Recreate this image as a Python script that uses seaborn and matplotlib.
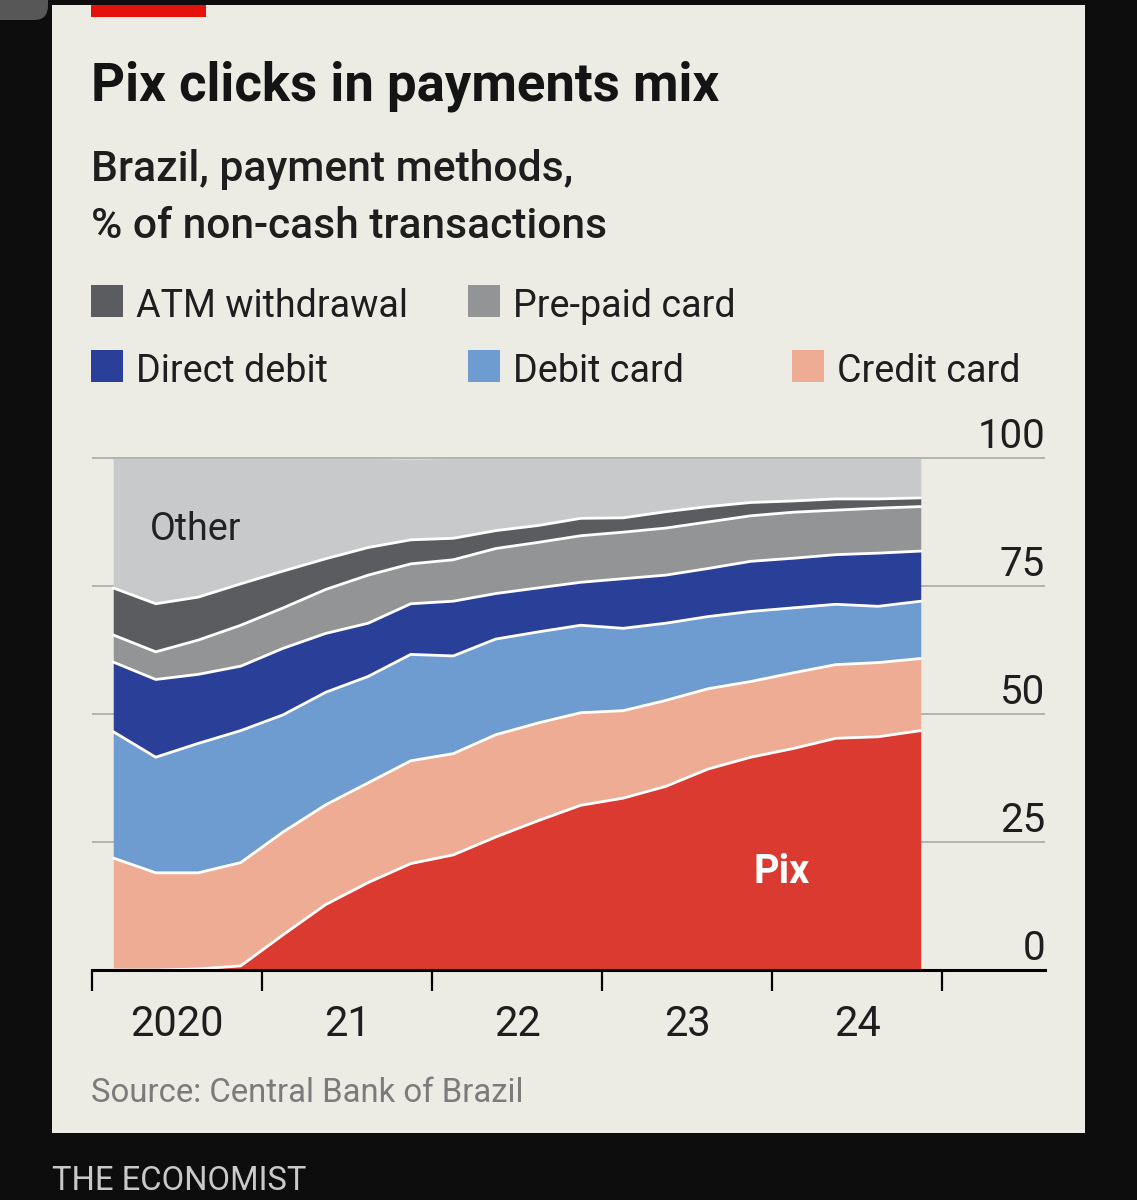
import numpy as np
import pandas as pd
import matplotlib
matplotlib.use("Agg")
import matplotlib.pyplot as plt
from matplotlib.patches import Rectangle, FancyBboxPatch
import seaborn as sns

# ---------------- data (% of non-cash transactions, quarterly) ----------------
quarters = ["2020Q1", "2020Q2", "2020Q3", "2020Q4",
            "2021Q1", "2021Q2", "2021Q3", "2021Q4",
            "2022Q1", "2022Q2", "2022Q3", "2022Q4",
            "2023Q1", "2023Q2", "2023Q3", "2023Q4",
            "2024Q1", "2024Q2", "2024Q3", "2024Q4"]

pix = [0.0, 0.0, 0.2, 0.8, 6.9, 12.8, 17.1, 20.8, 22.5, 26.0,
       29.2, 32.2, 33.6, 35.9, 39.3, 41.6, 43.3, 45.3, 45.6, 46.8]
credit_card = [21.9, 19.0, 18.8, 20.2, 20.1, 19.5, 19.5, 20.1, 19.8, 20.0,
               19.1, 18.1, 17.1, 16.8, 15.7, 14.8, 14.8, 14.4, 14.5, 14.1]
debit_card = [24.7, 22.6, 25.3, 25.8, 22.9, 22.0, 20.8, 20.8, 19.1, 18.7,
              17.8, 17.1, 16.1, 15.1, 14.1, 13.7, 12.7, 11.8, 11.0, 11.2]
direct_debit = [13.6, 15.2, 13.5, 12.6, 13.0, 11.5, 10.4, 9.9, 10.7, 8.9,
                8.6, 8.4, 9.7, 9.4, 9.4, 9.8, 9.7, 9.7, 10.4, 9.8]
prepaid_card = [5.3, 5.4, 6.7, 8.0, 7.9, 8.6, 9.4, 7.8, 8.1, 8.8,
                8.9, 9.1, 9.1, 9.2, 9.1, 8.9, 9.0, 8.7, 8.8, 8.7]
atm_withdrawal = [9.2, 9.4, 8.4, 8.1, 7.2, 6.0, 5.4, 4.7, 4.2, 3.5,
                  3.3, 3.4, 2.8, 3.2, 3.0, 2.6, 2.2, 2.2, 1.8, 1.7]
other = [25.3, 28.4, 27.1, 24.5, 22.0, 19.6, 17.4, 15.8, 15.6, 14.1,
         13.1, 11.7, 11.6, 10.4, 9.4, 8.6, 8.3, 7.9, 7.9, 7.7]

series_names = ["Pix", "Credit card", "Debit card", "Direct debit",
                "Pre-paid card", "ATM withdrawal", "Other"]
series_colors = ["#db3a30", "#eeac94", "#6e9bd0", "#2a3f97",
                 "#939496", "#5b5c60", "#c8c9cb"]
legend_rows = [["ATM withdrawal", "Pre-paid card"],
               ["Direct debit", "Debit card", "Credit card"]]
y_ticks = [0, 25, 50, 75, 100]
x_tick_years = [2020, 2021, 2022, 2023, 2024, 2025]
x_tick_labels = ["2020", "21", "22", "23", "24"]

title = "Pix clicks in payments mix"
subtitle = ["Brazil, payment methods,", "% of non-cash transactions"]
source = "Source: Central Bank of Brazil"
footer = "THE ECONOMIST"

# ---------------- derived ----------------
per = pd.PeriodIndex(quarters, freq="Q")
xq = per.year + (per.quarter - 1) / 4 + 0.125
stack = [pix, credit_card, debit_card, direct_debit, prepaid_card, atm_withdrawal, other]
tops = np.cumsum(np.array(stack), axis=0)
bound_df = pd.concat([
    pd.DataFrame({"x": xq, "top": tops[i], "series": series_names[i]})
    for i in range(len(series_names) - 1)
])

# ---------------- figure ----------------
sns.set_theme(style="white")
plt.rcParams["font.family"] = ["Roboto", "DejaVu Sans"]

W, H = 1137, 1200
fig = plt.figure(figsize=(W / 100, H / 100), dpi=100, facecolor="#0d0d0d")
renderer = fig.canvas.get_renderer()

def fx(px):
    return px / W

def fy(py):
    return 1 - py / H

# panel
fig.patches.append(Rectangle((fx(52), fy(1133)), fx(1085) - fx(52), fy(5) - fy(1133),
                             transform=fig.transFigure, facecolor="#ecebe4",
                             edgecolor="none", zorder=-5))
fig.patches.append(FancyBboxPatch((fx(-20), fy(20)), fx(68), fy(-20) - fy(20),
                                  boxstyle="round,pad=0,rounding_size=0.012",
                                  transform=fig.transFigure, facecolor="#575757",
                                  edgecolor="none", zorder=-5))
# red tag
fig.patches.append(Rectangle((fx(91), fy(17)), fx(206) - fx(91), fy(5) - fy(17),
                             transform=fig.transFigure, facecolor="#e3120b",
                             edgecolor="none", zorder=1))

def fit(t, target_w):
    t.set_fontsize(20)
    w = t.get_window_extent(renderer).width
    t.set_fontsize(20 * target_w / w)
    return t

fit(fig.text(fx(91), fy(100), title, fontweight="bold", color="#141414",
             va="baseline", ha="left"), 626)
fit(fig.text(fx(91), fy(181), subtitle[0], fontweight="medium", color="#1e1e1e",
             va="baseline", ha="left"), 482)
fit(fig.text(fx(91), fy(238), subtitle[1], fontweight="medium", color="#1e1e1e",
             va="baseline", ha="left"), 517)

# legend
color_of = dict(zip(series_names, series_colors))
col_sq = [91, 468, 792]
row_base = [317, 382]
ref = fig.text(0, 0, "ATM withdrawal", alpha=0)
fit(ref, 272)
leg_size = ref.get_fontsize()
for r, row in enumerate(legend_rows):
    for c, name in enumerate(row):
        sq_top = row_base[r] - 32
        fig.patches.append(Rectangle((fx(col_sq[c]), fy(row_base[r])), fx(32), fy(sq_top) - fy(row_base[r]),
                                     transform=fig.transFigure, facecolor=color_of[name],
                                     edgecolor="none", zorder=1))
        fig.text(fx(col_sq[c] + 45), fy(row_base[r]), name, fontsize=leg_size,
                 color="#1e1e1e", va="baseline", ha="left")

fit(fig.text(fx(91), fy(1102), source, color="#7b7b7b", va="baseline", ha="left"), 432)
fit(fig.text(fx(52), fy(1190), footer, color="#c9c9c9", va="baseline", ha="left"), 255)

# ---------------- chart axes ----------------
px_per_unit = (970 - 458.5) / 100
ymax = 101
ax_top = 970 - ymax * px_per_unit
ax = fig.add_axes([fx(92), fy(970), fx(1045) - fx(92), fy(ax_top) - fy(970)], zorder=2)
ax.patch.set_visible(False)
xmax = 2020 + (1045 - 92) / 170
ax.set_xlim(2020, xmax)
ax.set_ylim(0, ymax)

ax.stackplot(xq, *stack, colors=series_colors, linewidth=0, zorder=2, antialiased=True)
sns.lineplot(data=bound_df, x="x", y="top", units="series", estimator=None,
             color="white", linewidth=2.0, ax=ax, legend=False, zorder=3)
ax.set_xlabel("")
ax.set_ylabel("")

# grid & y labels (labels sit just above their gridlines, right-aligned)
ax.set_yticks(y_ticks)
ax.set_yticklabels([])
ax.grid(axis="y", color="#b4b4af", linewidth=1.4)
ax.grid(axis="x", visible=False)
ax.set_axisbelow(True)
ax.tick_params(axis="y", length=0, left=False, right=False)
for v in y_ticks:
    ax.annotate(str(v), xy=(1, v), xycoords=("axes fraction", "data"),
                xytext=(0, 7.5), textcoords="offset points",
                ha="right", va="baseline", fontsize=29, color="#1e1e1e",
                annotation_clip=False)

# x ticks
ax.set_xticks(x_tick_years)
ax.set_xticklabels([""] * len(x_tick_years))
ax.set_xticks([y + 0.5 for y in x_tick_years[:-1]], minor=True)
ax.set_xticklabels(x_tick_labels, minor=True)
ax.tick_params(axis="x", which="major", length=15, width=1.6, color="black",
               direction="out", bottom=True)
ax.tick_params(axis="x", which="minor", length=0, pad=24.5, labelsize=30,
               labelcolor="#1e1e1e", bottom=True)

for s in ["left", "right", "top"]:
    ax.spines[s].set_visible(False)
ax.spines["bottom"].set_color("black")
ax.spines["bottom"].set_linewidth(2.2)
ax.spines["bottom"].set_zorder(6)

# in-chart labels
ax.text(2020 + (150 - 92) / 170, (970 - 540) / px_per_unit, "Other",
        fontsize=leg_size * 1.0, color="#222222", ha="left", va="baseline", zorder=7)
ax.text(2020 + (782 - 92) / 170, (970 - 883) / px_per_unit, "Pix",
        fontsize=leg_size * 1.05, fontweight="bold", color="white",
        ha="center", va="baseline", zorder=7)

fig.savefig("out.png", dpi=100, facecolor=fig.get_facecolor())
